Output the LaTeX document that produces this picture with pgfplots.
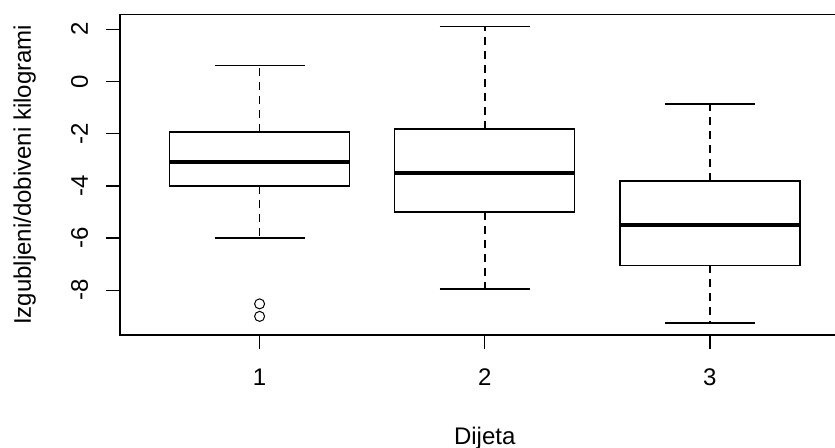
\documentclass[border=0pt]{standalone}
\usepackage{fontspec}
\setmainfont{Liberation Sans}
\usepackage{pgfplots}
\pgfplotsset{compat=1.18}
\usepgfplotslibrary{statistics}

\begin{document}
\begin{tikzpicture}[font=\fontsize{24bp}{28bp}\selectfont]
\useasboundingbox (0,0) rectangle (835bp,448bp);
\clip (0,0) rectangle (835bp,448bp);
\begin{axis}[
  at={(120bp,113bp)}, anchor=south west,
  scale only axis, width=729.5bp, height=320.3bp,
  xmin=0.38, xmax=3.62, ymin=-9.713, ymax=2.559,
  axis line style={line width=1.3bp},
  tick pos=left, tick align=outside, major tick length=14bp,
  tick style={line width=1.3bp, black},
  xtick={1,2,3}, xticklabels={1,2,3},
  ytick={-8,-6,-4,-2,0,2}, yticklabels={-8,-6,-4,-2,0,2},
  xticklabel style={anchor=base}, xticklabel shift=36bp,
  yticklabel style={rotate=90, anchor=base}, yticklabel shift=18bp,
  xlabel={Dijeta},
  ylabel={Izgubljeni/dobiveni kilogrami},
  every axis x label/.style={at={(axis description cs:0.5,0)}, anchor=base, yshift=-109bp},
  every axis y label/.style={at={(axis description cs:0,0.5)}, rotate=90, anchor=base, yshift=89bp},
  boxplot/draw direction=y,
  boxplot/box extend=0.8,
  boxplot/whisker extend=0,
  boxplot/every whisker/.style={dash pattern=on 8bp off 6bp, line width=1.5bp},
  boxplot/every median/.style={line width=4bp},
]
% boxes (R boxplot statistics)
\addplot[black, line width=1.3bp, boxplot prepared={
  draw position=1, lower whisker=-6.0, lower quartile=-4.0,
  median=-3.07, upper quartile=-1.93, upper whisker=0.62}] coordinates {};
\addplot[black, line width=1.3bp, boxplot prepared={
  draw position=2, lower whisker=-7.95, lower quartile=-5.0,
  median=-3.52, upper quartile=-1.82, upper whisker=2.12}] coordinates {};
\addplot[black, line width=1.3bp, boxplot prepared={
  draw position=3, lower whisker=-9.25, lower quartile=-7.04,
  median=-5.5, upper quartile=-3.81, upper whisker=-0.86}] coordinates {};
% whisker caps
\addplot[black, line width=1.3bp] coordinates {(0.8,0.62) (1.2,0.62)};
\addplot[black, line width=1.3bp] coordinates {(0.8,-6.0) (1.2,-6.0)};
\addplot[black, line width=1.3bp] coordinates {(1.8,2.12) (2.2,2.12)};
\addplot[black, line width=1.3bp] coordinates {(1.8,-7.95) (2.2,-7.95)};
\addplot[black, line width=1.3bp] coordinates {(2.8,-0.86) (3.2,-0.86)};
\addplot[black, line width=1.3bp] coordinates {(2.8,-9.25) (3.2,-9.25)};
% outliers
\addplot[only marks, mark=o, mark size=5bp, line width=1bp, black]
  coordinates {(1,-8.52) (1,-9.0)};
\end{axis}
\end{tikzpicture}
\end{document}
